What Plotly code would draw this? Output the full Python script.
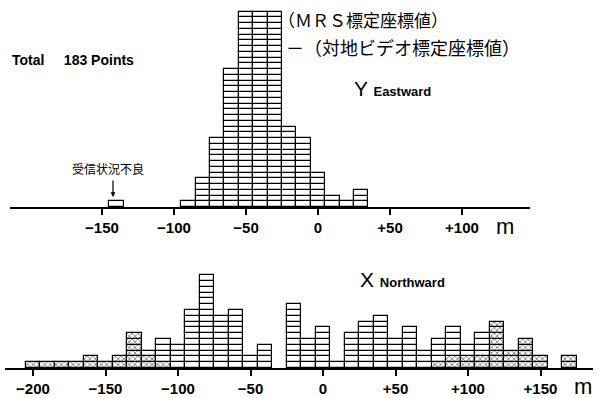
import plotly.graph_objects as go

# ---- data ----
y_bins = [-140, -90, -80, -70, -60, -50, -40, -30, -20, -10, 0, 10, 20, 30]
y_counts = [1, 1, 5, 12, 24, 34, 34, 34, 14, 12, 6, 2, 1, 3]

x_bins = [-200, -190, -180, -170, -160, -150, -140, -130, -120, -110, -100, -90, -80, -70,
          -60, -50, -40, -30, -20, -10, 0, 10, 20, 30, 40, 50, 60, 70, 80, 90, 100, 110,
          120, 130, 140, 150, 160, 170]
x_dotted = [1, 1, 1, 1, 2, 1, 2, 6, 2, 1, 0, 0, 0, 0, 0, 0, 0, 0, 0, 0, 0, 0, 0, 0, 0, 0,
            0, 0, 1, 2, 2, 2, 8, 3, 5, 2, 0, 2]
x_plain = [0, 0, 0, 0, 0, 0, 0, 0, 1, 4, 4, 10, 16, 9, 10, 2, 4, 0, 11, 5, 7, 1, 6, 8, 9, 5,
           7, 3, 4, 5, 2, 4, 0, 0, 0, 0, 0, 0]

y_ticks = [-150, -100, -50, 0, 50, 100]
y_ticktext = ["−150", "−100", "−50", "0", "+50", "+100"]
x_ticks = [-200, -150, -100, -50, 0, 50, 100, 150]
x_ticktext = ["−200", "−150", "−100", "−50", "0", "+50", "+100", "+150"]

W, H = 600, 398


def cells(bins, counts, start=None):
    xs, bases = [], []
    for i, (b, n) in enumerate(zip(bins, counts)):
        s = start[i] if start else 0
        for k in range(n):
            xs.append(b)
            bases.append(s + k)
    return xs, bases


fig = go.Figure()

# Y (Eastward) histogram
yx, yb = cells(y_bins, y_counts)
fig.add_trace(go.Bar(x=yx, y=[1] * len(yx), base=yb, width=10,
                     marker=dict(color="white", line=dict(color="black", width=1.2)),
                     xaxis="x", yaxis="y", showlegend=False, hoverinfo="skip"))

# X (Northward) histogram: dotted cells at bottom, plain cells above
dx, db = cells(x_bins, x_dotted)
fig.add_trace(go.Bar(x=dx, y=[1] * len(dx), base=db, width=10,
                     marker=dict(color="white", line=dict(color="black", width=1.2),
                                 pattern=dict(shape="x", size=4, solidity=0.4,
                                              fgcolor="black", bgcolor="white")),
                     xaxis="x2", yaxis="y2", showlegend=False, hoverinfo="skip"))
px_, pb = cells(x_bins, x_plain, start=x_dotted)
fig.add_trace(go.Bar(x=px_, y=[1] * len(px_), base=pb, width=10,
                     marker=dict(color="white", line=dict(color="black", width=1.2)),
                     xaxis="x2", yaxis="y2", showlegend=False, hoverinfo="skip"))

tickfont = dict(family="Liberation Sans, Arial", size=15, color="black", weight="bold")

# pixel geometry
y_base_px, y_cell = 207, 5.75
x_base_px, x_cell = 368, 5.8

fig.update_layout(
    width=W, height=H, margin=dict(l=0, r=0, t=0, b=0),
    paper_bgcolor="white", plot_bgcolor="rgba(0,0,0,0)",
    barmode="overlay", bargap=0,
    xaxis=dict(domain=[10 / W, 530 / W], range=[(10 - 318) / 1.44, (530 - 318) / 1.44],
               anchor="y", showline=True, linecolor="black", linewidth=1.5,
               ticks="outside", ticklen=6, tickwidth=1.5, tickcolor="black",
               tickvals=y_ticks, ticktext=y_ticktext, tickfont=tickfont,
               showgrid=False, zeroline=False),
    yaxis=dict(domain=[(H - y_base_px) / H, 1], range=[0, y_base_px / y_cell],
               anchor="x", visible=False, showgrid=False),
    xaxis2=dict(domain=[5 / W, 593 / W], range=[(5 - 323) / 1.45, (593 - 323) / 1.45],
                anchor="y2", showline=True, linecolor="black", linewidth=1.5,
                ticks="outside", ticklen=6, tickwidth=1.5, tickcolor="black",
                tickvals=x_ticks, ticktext=x_ticktext, tickfont=tickfont,
                showgrid=False, zeroline=False),
    yaxis2=dict(domain=[(H - x_base_px) / H, (H - 240) / H],
                range=[0, (x_base_px - 240) / x_cell],
                anchor="x2", visible=False, showgrid=False),
)


def txt(x, y, text, size, family="Liberation Sans, Arial", xanchor="left"):
    fig.add_annotation(x=x / W, y=1 - y / H, xref="paper", yref="paper", text=text,
                       showarrow=False, xanchor=xanchor, yanchor="middle",
                       font=dict(family=family, size=size, color="black"))


jp = "Noto Sans CJK JP"
txt(10, 60, "<b>Total     183 Points</b>", 14)
txt(276, 19, "（ＭＲＳ標定座標値）", 17, family=jp)
txt(284, 47, "－（対地ビデオ標定座標値）", 18, family=jp)
txt(352, 88, "Y <b><span style='font-size:13px'>Eastward</span></b>", 21)
txt(108, 168, "受信状況不良", 12, family=jp, xanchor="center")
txt(494, 226, "m", 22)
txt(358, 279, "X <b><span style='font-size:13px'>Northward</span></b>", 21)
txt(572, 386, "m", 22)

fig.add_annotation(x=113 / W, y=1 - 197 / H, xref="paper", yref="paper", text="",
                   showarrow=True, ax=0, ay=-18, arrowhead=2, arrowsize=0.8,
                   arrowwidth=1.2, arrowcolor="black")

fig.write_html("out.html", config={"displayModeBar": False},
               post_script="document.body.style.margin='0px';document.body.style.overflow='hidden';")
